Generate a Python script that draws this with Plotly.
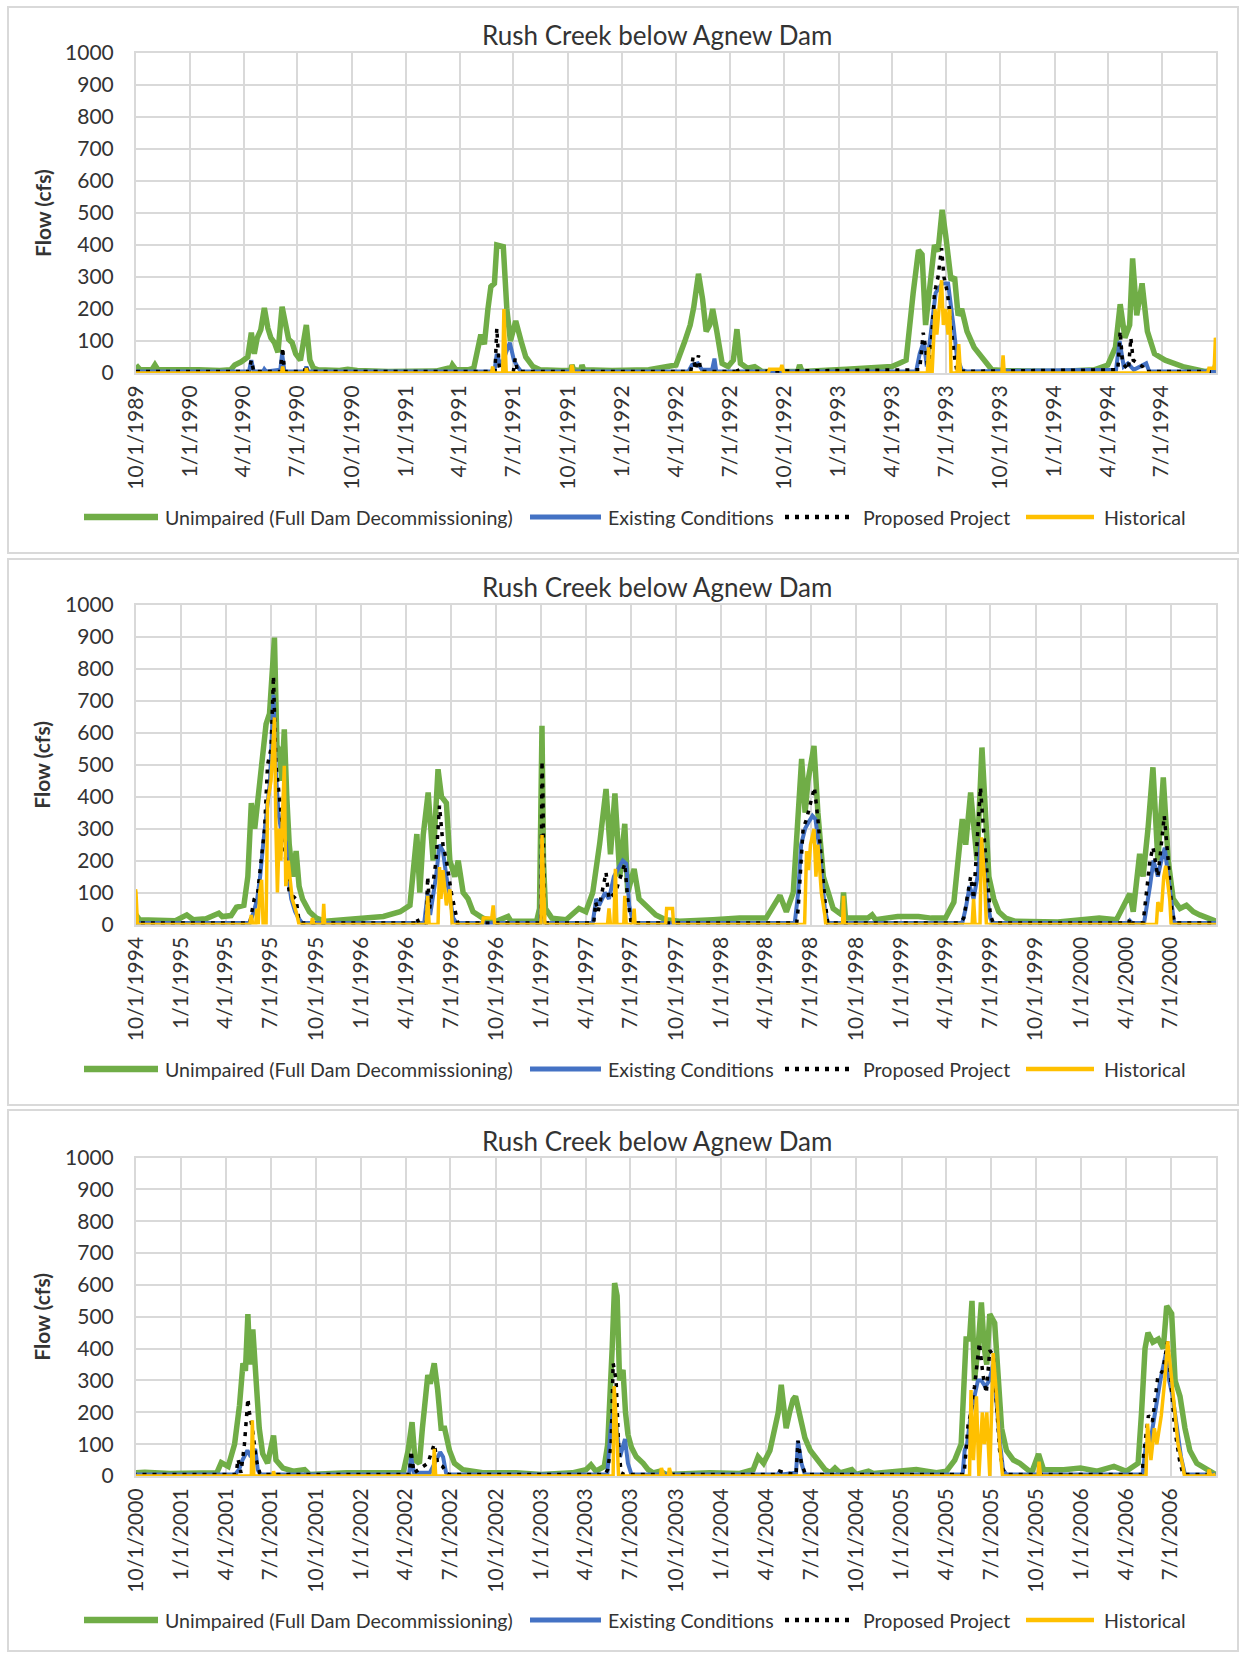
import pandas as pd
import plotly.graph_objects as go

W, H = 1244, 1653

# ---------------- data (cfs) ----------------
unimpaired = [
    ("1989-10-01", 25), ("1989-10-08", 10), ("1989-10-28", 10), ("1989-11-02", 25), ("1989-11-07", 10),
    ("1989-12-10", 8), ("1990-01-15", 10), ("1990-02-20", 8), ("1990-03-10", 10), ("1990-03-17", 25),
    ("1990-03-28", 35), ("1990-04-08", 50), ("1990-04-14", 126), ("1990-04-19", 60), ("1990-04-24", 110),
    ("1990-04-30", 135), ("1990-05-06", 203), ("1990-05-12", 140), ("1990-05-17", 110), ("1990-05-23", 95),
    ("1990-05-29", 65), ("1990-06-05", 207), ("1990-06-10", 150), ("1990-06-16", 105), ("1990-06-22", 95),
    ("1990-06-28", 60), ("1990-07-06", 40), ("1990-07-16", 150), ("1990-07-22", 40), ("1990-07-28", 15),
    ("1990-08-05", 10), ("1990-09-10", 8), ("1990-09-24", 12), ("1990-10-10", 8), ("1990-12-01", 5),
    ("1991-01-20", 8), ("1991-02-20", 6), ("1991-03-12", 15), ("1991-03-16", 8), ("1991-03-20", 25),
    ("1991-03-26", 10), ("1991-04-15", 10), ("1991-04-25", 15), ("1991-05-07", 120), ("1991-05-13", 90),
    ("1991-05-19", 200), ("1991-05-24", 270), ("1991-05-30", 280), ("1991-06-03", 400), ("1991-06-14", 395),
    ("1991-06-20", 200), ("1991-06-26", 100), ("1991-07-05", 163), ("1991-07-14", 100), ("1991-07-22", 50),
    ("1991-08-03", 20), ("1991-08-15", 10), ("1991-09-20", 8), ("1991-10-06", 8), ("1991-10-08", 25),
    ("1991-10-11", 10), ("1991-10-23", 8), ("1991-10-25", 25), ("1991-10-28", 10), ("1991-12-15", 8),
    ("1992-02-15", 10), ("1992-03-20", 20), ("1992-04-01", 25), ("1992-04-16", 100), ("1992-04-25", 150),
    ("1992-05-01", 205), ("1992-05-09", 310), ("1992-05-16", 230), ("1992-05-22", 130), ("1992-05-28", 150),
    ("1992-06-02", 200), ("1992-06-09", 130), ("1992-06-18", 30), ("1992-06-28", 20), ("1992-07-07", 40),
    ("1992-07-13", 137), ("1992-07-19", 30), ("1992-07-31", 15), ("1992-08-12", 20), ("1992-08-24", 5),
    ("1992-10-24", 5), ("1992-10-27", 25), ("1992-10-31", 5), ("1993-01-14", 12), ("1993-03-08", 15),
    ("1993-04-01", 20), ("1993-04-13", 30), ("1993-04-25", 40), ("1993-05-07", 250), ("1993-05-16", 384),
    ("1993-05-22", 370), ("1993-05-28", 150), ("1993-06-06", 300), ("1993-06-12", 400), ("1993-06-18", 380),
    ("1993-06-25", 510), ("1993-07-01", 430), ("1993-07-10", 290), ("1993-07-16", 300), ("1993-07-22", 180),
    ("1993-07-28", 200), ("1993-08-06", 130), ("1993-08-18", 80), ("1993-08-30", 50), ("1993-09-17", 10),
    ("1993-10-09", 8), ("1993-11-20", 5), ("1994-01-08", 5), ("1994-03-09", 10), ("1994-04-01", 25),
    ("1994-04-14", 80), ("1994-04-22", 215), ("1994-04-30", 110), ("1994-05-08", 150), ("1994-05-13", 358),
    ("1994-05-20", 180), ("1994-05-29", 280), ("1994-06-07", 130), ("1994-06-19", 60), ("1994-07-07", 40),
    ("1994-08-06", 20), ("1994-09-12", 5), ("1994-09-28", 8),
    ("1994-10-01", 30), ("1994-10-08", 15), ("1994-11-20", 15), ("1994-12-20", 12), ("1995-01-12", 30),
    ("1995-01-25", 15), ("1995-02-20", 18), ("1995-03-18", 35), ("1995-03-25", 25), ("1995-04-12", 28),
    ("1995-04-23", 54), ("1995-05-08", 60), ("1995-05-16", 150), ("1995-05-23", 380), ("1995-05-30", 300),
    ("1995-06-06", 400), ("1995-06-12", 480), ("1995-06-22", 627), ("1995-06-29", 660), ("1995-07-09", 898),
    ("1995-07-14", 560), ("1995-07-19", 544), ("1995-07-24", 450), ("1995-07-29", 611), ("1995-08-03", 400),
    ("1995-08-08", 250), ("1995-08-15", 150), ("1995-08-22", 230), ("1995-08-28", 120), ("1995-09-04", 80),
    ("1995-09-18", 40), ("1995-10-02", 20), ("1995-10-20", 10), ("1995-12-09", 15), ("1996-01-19", 20),
    ("1996-02-15", 25), ("1996-03-20", 40), ("1996-04-09", 60), ("1996-04-23", 283), ("1996-04-29", 100),
    ("1996-05-06", 280), ("1996-05-16", 413), ("1996-05-26", 200), ("1996-06-05", 486), ("1996-06-12", 400),
    ("1996-06-22", 380), ("1996-06-29", 200), ("1996-07-09", 150), ("1996-07-16", 200), ("1996-07-26", 100),
    ("1996-08-05", 80), ("1996-08-15", 40), ("1996-09-04", 20), ("1996-10-01", 10), ("1996-10-25", 25),
    ("1996-10-31", 10), ("1996-12-22", 10), ("1996-12-28", 50), ("1997-01-02", 622), ("1997-01-05", 200),
    ("1997-01-09", 50), ("1997-01-22", 20), ("1997-02-20", 15), ("1997-03-18", 50), ("1997-04-01", 40),
    ("1997-04-15", 100), ("1997-04-29", 252), ("1997-05-12", 424), ("1997-05-21", 220), ("1997-05-30", 410),
    ("1997-06-09", 150), ("1997-06-19", 315), ("1997-06-25", 100), ("1997-07-08", 174), ("1997-07-18", 80),
    ("1997-08-01", 60), ("1997-08-21", 30), ("1997-09-10", 15), ("1997-10-08", 10), ("1997-12-15", 15),
    ("1998-02-07", 20), ("1998-04-02", 20), ("1998-04-30", 91), ("1998-05-13", 40), ("1998-05-27", 100),
    ("1998-06-13", 518), ("1998-06-20", 350), ("1998-06-26", 450), ("1998-07-08", 559), ("1998-07-16", 350),
    ("1998-07-27", 150), ("1998-08-06", 100), ("1998-08-16", 50), ("1998-09-03", 30), ("1998-09-06", 100),
    ("1998-09-10", 20), ("1998-10-25", 20), ("1998-11-03", 30), ("1998-11-10", 15), ("1998-12-01", 20),
    ("1998-12-25", 25), ("1999-02-05", 25), ("1999-03-03", 20), ("1999-04-01", 20), ("1999-04-18", 70),
    ("1999-05-05", 330), ("1999-05-12", 250), ("1999-05-22", 413), ("1999-05-28", 300), ("1999-06-04", 200),
    ("1999-06-14", 554), ("1999-06-21", 350), ("1999-06-28", 150), ("1999-07-08", 80), ("1999-07-18", 40),
    ("1999-08-01", 20), ("1999-08-21", 10), ("1999-11-15", 8), ("2000-02-07", 20), ("2000-03-13", 15),
    ("2000-04-09", 96), ("2000-04-16", 40), ("2000-04-29", 221), ("2000-05-06", 150), ("2000-05-16", 300),
    ("2000-05-26", 492), ("2000-06-05", 200), ("2000-06-16", 460), ("2000-06-26", 200), ("2000-07-06", 80),
    ("2000-07-20", 50), ("2000-08-02", 60), ("2000-08-16", 40), ("2000-08-29", 30), ("2000-09-25", 10),
    ("2000-10-01", 10), ("2000-10-19", 12), ("2000-12-09", 8), ("2001-02-08", 10), ("2001-03-14", 10),
    ("2001-03-23", 42), ("2001-04-06", 30), ("2001-04-19", 100), ("2001-04-29", 222), ("2001-05-06", 354),
    ("2001-05-11", 330), ("2001-05-16", 508), ("2001-05-20", 350), ("2001-05-26", 460), ("2001-06-02", 280),
    ("2001-06-08", 150), ("2001-06-15", 70), ("2001-06-25", 40), ("2001-07-07", 127), ("2001-07-12", 50),
    ("2001-07-26", 25), ("2001-08-16", 15), ("2001-09-08", 20), ("2001-09-18", 5), ("2001-12-02", 10),
    ("2002-02-14", 8), ("2002-03-27", 10), ("2002-04-06", 80), ("2002-04-14", 169), ("2002-04-20", 50),
    ("2002-04-29", 40), ("2002-05-05", 150), ("2002-05-16", 317), ("2002-05-21", 290), ("2002-05-29", 354),
    ("2002-06-05", 270), ("2002-06-12", 150), ("2002-06-19", 150), ("2002-06-29", 80), ("2002-07-09", 40),
    ("2002-07-26", 20), ("2002-09-04", 10), ("2002-11-11", 10), ("2003-01-01", 5), ("2003-03-05", 10),
    ("2003-04-02", 20), ("2003-04-12", 35), ("2003-04-22", 15), ("2003-05-09", 30), ("2003-05-16", 100),
    ("2003-05-21", 250), ("2003-05-25", 400), ("2003-05-30", 606), ("2003-06-04", 566), ("2003-06-09", 300),
    ("2003-06-16", 333), ("2003-06-21", 200), ("2003-06-26", 130), ("2003-07-03", 90), ("2003-07-13", 60),
    ("2003-07-27", 40), ("2003-08-06", 20), ("2003-08-16", 10), ("2003-08-30", 15), ("2003-09-12", 5),
    ("2003-12-09", 10), ("2004-02-08", 8), ("2004-03-06", 20), ("2004-03-16", 60), ("2004-03-27", 40),
    ("2004-04-09", 80), ("2004-04-19", 150), ("2004-04-26", 200), ("2004-05-02", 286), ("2004-05-12", 150),
    ("2004-05-19", 200), ("2004-05-26", 240), ("2004-05-31", 250), ("2004-06-08", 200), ("2004-06-19", 120),
    ("2004-06-30", 80), ("2004-07-10", 60), ("2004-07-20", 40), ("2004-07-30", 20), ("2004-08-09", 10),
    ("2004-08-19", 25), ("2004-08-29", 10), ("2004-09-22", 20), ("2004-10-01", 5), ("2004-10-26", 15),
    ("2004-11-05", 8), ("2004-12-29", 15), ("2005-01-11", 20), ("2005-01-31", 20), ("2005-02-21", 15),
    ("2005-03-13", 10), ("2005-04-02", 15), ("2005-04-19", 50), ("2005-05-02", 100), ("2005-05-09", 300),
    ("2005-05-12", 430), ("2005-05-19", 430), ("2005-05-24", 550), ("2005-05-29", 300), ("2005-06-05", 400),
    ("2005-06-12", 545), ("2005-06-18", 400), ("2005-06-23", 350), ("2005-06-29", 508), ("2005-07-09", 480),
    ("2005-07-16", 300), ("2005-07-23", 150), ("2005-08-02", 80), ("2005-08-16", 50), ("2005-08-29", 40),
    ("2005-09-12", 20), ("2005-09-22", 10), ("2005-10-06", 69), ("2005-10-16", 20), ("2005-11-26", 20),
    ("2005-12-30", 25), ("2006-02-02", 15), ("2006-03-08", 30), ("2006-04-02", 15), ("2006-04-26", 40),
    ("2006-05-03", 200), ("2006-05-10", 400), ("2006-05-16", 450), ("2006-05-26", 420), ("2006-06-06", 430),
    ("2006-06-16", 400), ("2006-06-23", 534), ("2006-07-03", 510), ("2006-07-10", 300), ("2006-07-20", 250),
    ("2006-07-30", 150), ("2006-08-09", 80), ("2006-08-23", 40), ("2006-09-12", 20), ("2006-09-30", 5),
]

existing = [
    ("1989-10-01", 5), ("1990-04-10", 5), ("1990-04-14", 40), ("1990-04-18", 5), ("1990-05-04", 5),
    ("1990-05-06", 12), ("1990-05-09", 5), ("1990-06-02", 10), ("1990-06-05", 60), ("1990-06-09", 5),
    ("1990-07-14", 5), ("1990-07-16", 20), ("1990-07-19", 5),
    ("1991-05-30", 5), ("1991-06-03", 60), ("1991-06-10", 20), ("1991-06-25", 95), ("1991-07-02", 40),
    ("1991-07-08", 20), ("1991-07-14", 5),
    ("1992-04-22", 5), ("1992-04-28", 25), ("1992-05-08", 30), ("1992-05-15", 10), ("1992-06-01", 10),
    ("1992-06-05", 45), ("1992-06-08", 5),
    ("1993-05-12", 5), ("1993-05-18", 60), ("1993-05-25", 100), ("1993-05-30", 20), ("1993-06-08", 150),
    ("1993-06-14", 250), ("1993-06-25", 280), ("1993-07-05", 280), ("1993-07-14", 150), ("1993-07-20", 50),
    ("1993-07-28", 10), ("1993-08-05", 5),
    ("1994-04-15", 10), ("1994-04-21", 100), ("1994-04-28", 20), ("1994-05-05", 30), ("1994-05-15", 10),
    ("1994-06-05", 30), ("1994-06-10", 5),
    ("1995-05-20", 5), ("1995-05-28", 40), ("1995-06-04", 80), ("1995-06-10", 150), ("1995-06-16", 250),
    ("1995-06-22", 350), ("1995-06-30", 450), ("1995-07-07", 720), ("1995-07-11", 500), ("1995-07-17", 350),
    ("1995-07-24", 280), ("1995-08-01", 257), ("1995-08-06", 150), ("1995-08-12", 80), ("1995-08-20", 40),
    ("1995-08-27", 20), ("1995-09-03", 5),
    ("1996-05-08", 5), ("1996-05-15", 100), ("1996-05-20", 30), ("1996-06-01", 150), ("1996-06-08", 250),
    ("1996-06-15", 230), ("1996-06-22", 150), ("1996-06-29", 80), ("1996-07-06", 20), ("1996-07-12", 5),
    ("1996-12-30", 5), ("1997-01-02", 250), ("1997-01-05", 20), ("1997-01-08", 5), ("1997-04-15", 5),
    ("1997-04-22", 80), ("1997-04-28", 60), ("1997-05-10", 100), ("1997-05-18", 80), ("1997-05-28", 150),
    ("1997-06-05", 170), ("1997-06-15", 200), ("1997-06-22", 190), ("1997-06-28", 60), ("1997-07-05", 10),
    ("1997-07-10", 5),
    ("1998-05-30", 5), ("1998-06-06", 100), ("1998-06-12", 250), ("1998-06-20", 300), ("1998-06-27", 320),
    ("1998-07-05", 340), ("1998-07-11", 330), ("1998-07-18", 250), ("1998-07-24", 150), ("1998-07-30", 50),
    ("1998-08-05", 5),
    ("1999-05-05", 5), ("1999-05-12", 50), ("1999-05-20", 120), ("1999-05-28", 80), ("1999-06-05", 150),
    ("1999-06-12", 270), ("1999-06-18", 200), ("1999-06-24", 80), ("1999-07-01", 20), ("1999-07-06", 5),
    ("2000-04-06", 5), ("2000-04-09", 12), ("2000-04-13", 5), ("2000-05-08", 5), ("2000-05-14", 60),
    ("2000-05-20", 120), ("2000-05-27", 200), ("2000-06-05", 150), ("2000-06-12", 200), ("2000-06-19", 240),
    ("2000-06-26", 150), ("2000-07-03", 50), ("2000-07-08", 5),
    ("2001-04-20", 5), ("2001-04-28", 20), ("2001-05-05", 50), ("2001-05-15", 80), ("2001-05-22", 60),
    ("2001-05-31", 85), ("2001-06-05", 20), ("2001-06-10", 5),
    ("2002-04-08", 5), ("2002-04-12", 60), ("2002-04-18", 10), ("2002-05-20", 10), ("2002-05-30", 40),
    ("2002-06-10", 75), ("2002-06-16", 60), ("2002-06-22", 10), ("2002-06-27", 5),
    ("2003-05-15", 5), ("2003-05-22", 150), ("2003-05-27", 200), ("2003-06-03", 150), ("2003-06-10", 60),
    ("2003-06-20", 116), ("2003-06-26", 40), ("2003-07-03", 5),
    ("2004-04-26", 5), ("2004-04-29", 15), ("2004-05-03", 5), ("2004-06-01", 10), ("2004-06-05", 110),
    ("2004-06-12", 40), ("2004-06-19", 5),
    ("2005-05-05", 5), ("2005-05-09", 80), ("2005-05-14", 100), ("2005-05-22", 200), ("2005-06-05", 300),
    ("2005-06-12", 300), ("2005-06-20", 280), ("2005-06-28", 300), ("2005-07-06", 350), ("2005-07-14", 200),
    ("2005-07-20", 100), ("2005-07-26", 20), ("2005-08-02", 5),
    ("2006-05-05", 5), ("2006-05-12", 100), ("2006-05-20", 100), ("2006-05-30", 200), ("2006-06-10", 300),
    ("2006-06-22", 390), ("2006-06-28", 300), ("2006-07-05", 250), ("2006-07-14", 150), ("2006-07-22", 60),
    ("2006-07-30", 5), ("2006-09-30", 5),
]

proposed = [
    ("1989-10-01", 5), ("1990-04-10", 5), ("1990-04-14", 40), ("1990-04-18", 5), ("1990-06-02", 5),
    ("1990-06-04", 50), ("1990-06-06", 80), ("1990-06-09", 5), ("1990-07-13", 5), ("1990-07-15", 25),
    ("1990-07-18", 5),
    ("1991-05-31", 5), ("1991-06-03", 140), ("1991-06-07", 20), ("1991-06-10", 5), ("1991-07-01", 5),
    ("1991-07-04", 45), ("1991-07-08", 5),
    ("1992-04-26", 5), ("1992-04-30", 50), ("1992-05-04", 10), ("1992-05-09", 55), ("1992-05-13", 5),
    ("1992-07-10", 5), ("1992-07-12", 20), ("1992-07-15", 5),
    ("1993-05-18", 10), ("1993-05-24", 126), ("1993-05-28", 80), ("1993-06-01", 10), ("1993-06-07", 100),
    ("1993-06-12", 250), ("1993-06-18", 300), ("1993-06-24", 390), ("1993-06-28", 300), ("1993-07-04", 250),
    ("1993-07-10", 150), ("1993-07-15", 60), ("1993-07-20", 5),
    ("1994-04-18", 10), ("1994-04-22", 131), ("1994-04-26", 30), ("1994-05-06", 10), ("1994-05-10", 110),
    ("1994-05-14", 40), ("1994-05-30", 20), ("1994-06-03", 5),
    ("1995-05-20", 5), ("1995-05-29", 80), ("1995-06-05", 100), ("1995-06-12", 200), ("1995-06-19", 300),
    ("1995-06-25", 500), ("1995-07-02", 550), ("1995-07-07", 778), ("1995-07-12", 500), ("1995-07-19", 400),
    ("1995-07-26", 280), ("1995-08-01", 200), ("1995-08-08", 100), ("1995-08-22", 80), ("1995-08-28", 10),
    ("1995-09-02", 5),
    ("1996-04-20", 5), ("1996-04-23", 20), ("1996-04-27", 5), ("1996-05-12", 5), ("1996-05-15", 150),
    ("1996-05-19", 50), ("1996-06-01", 200), ("1996-06-08", 372), ("1996-06-15", 250), ("1996-06-22", 200),
    ("1996-07-02", 100), ("1996-07-09", 50), ("1996-07-15", 5),
    ("1996-12-31", 5), ("1997-01-02", 512), ("1997-01-04", 400), ("1997-01-07", 5), ("1997-04-17", 5),
    ("1997-04-21", 70), ("1997-04-26", 40), ("1997-05-12", 163), ("1997-05-18", 80), ("1997-05-31", 100),
    ("1997-06-19", 190), ("1997-06-25", 80), ("1997-07-02", 5),
    ("1998-06-03", 5), ("1998-06-06", 50), ("1998-06-10", 150), ("1998-06-16", 300), ("1998-06-23", 330),
    ("1998-07-09", 429), ("1998-07-16", 330), ("1998-07-23", 200), ("1998-07-30", 80), ("1998-08-05", 5),
    ("1999-05-01", 5), ("1999-05-08", 20), ("1999-05-22", 150), ("1999-05-28", 80), ("1999-06-11", 429),
    ("1999-06-17", 300), ("1999-06-24", 150), ("1999-07-01", 30), ("1999-07-07", 5),
    ("2000-04-07", 5), ("2000-04-09", 20), ("2000-04-12", 5), ("2000-05-06", 5), ("2000-05-13", 100),
    ("2000-05-20", 200), ("2000-05-26", 242), ("2000-06-05", 150), ("2000-06-12", 250), ("2000-06-18", 340),
    ("2000-06-26", 200), ("2000-07-03", 50), ("2000-07-09", 5),
    ("2001-04-22", 5), ("2001-04-26", 53), ("2001-05-02", 10), ("2001-05-09", 100), ("2001-05-16", 243),
    ("2001-05-19", 200), ("2001-05-25", 150), ("2001-06-02", 50), ("2001-06-09", 10), ("2001-06-14", 5),
    ("2002-04-09", 5), ("2002-04-12", 79), ("2002-04-18", 10), ("2002-05-16", 40), ("2002-05-29", 100),
    ("2002-06-05", 40), ("2002-06-15", 30), ("2002-06-22", 10), ("2002-06-27", 5),
    ("2003-05-10", 5), ("2003-05-16", 20), ("2003-05-23", 100), ("2003-05-27", 354), ("2003-06-02", 300),
    ("2003-06-07", 100), ("2003-06-12", 10), ("2003-06-18", 5),
    ("2004-04-26", 5), ("2004-04-29", 15), ("2004-05-09", 10), ("2004-06-01", 5), ("2004-06-05", 111),
    ("2004-06-12", 40), ("2004-06-19", 10), ("2004-06-25", 5),
    ("2005-05-08", 5), ("2005-05-12", 100), ("2005-05-16", 160), ("2005-05-22", 200), ("2005-05-29", 280),
    ("2005-06-08", 418), ("2005-06-15", 320), ("2005-06-22", 260), ("2005-06-29", 395), ("2005-07-06", 380),
    ("2005-07-13", 200), ("2005-07-19", 80), ("2005-07-26", 20), ("2005-08-01", 5),
    ("2006-05-04", 5), ("2006-05-08", 80), ("2006-05-17", 190), ("2006-05-25", 170), ("2006-06-05", 312),
    ("2006-06-15", 330), ("2006-06-25", 423), ("2006-07-02", 300), ("2006-07-09", 150), ("2006-07-19", 50),
    ("2006-07-26", 5), ("2006-09-30", 5),
]

historical = [
    ("1989-10-01", 0), ("1990-06-04", 0), ("1990-06-06", 20), ("1990-06-08", 0), ("1990-07-15", 0),
    ("1990-07-16", 15), ("1990-07-18", 0),
    ("1991-05-25", 0), ("1991-05-27", 20), ("1991-05-29", 0), ("1991-06-13", 0), ("1991-06-15", 200),
    ("1991-06-19", 0), ("1991-10-06", 0), ("1991-10-08", 25), ("1991-10-11", 0),
    ("1992-09-04", 0), ("1992-09-06", 12), ("1992-09-25", 12), ("1992-09-27", 25), ("1992-09-30", 0),
    ("1993-05-31", 0), ("1993-06-02", 80), ("1993-06-04", 0), ("1993-06-08", 0), ("1993-06-10", 100),
    ("1993-06-13", 200), ("1993-06-16", 120), ("1993-06-20", 200), ("1993-06-24", 290), ("1993-06-27", 150),
    ("1993-07-01", 200), ("1993-07-05", 120), ("1993-07-08", 200), ("1993-07-10", 0), ("1993-07-20", 0),
    ("1993-07-23", 90), ("1993-07-26", 0), ("1993-10-04", 0), ("1993-10-06", 55), ("1993-10-08", 0),
    ("1994-09-17", 0), ("1994-09-19", 15), ("1994-09-28", 15), ("1994-09-30", 110), ("1994-10-01", 100),
    ("1994-10-04", 0),
    ("1995-05-20", 0), ("1995-05-23", 30), ("1995-05-26", 0), ("1995-06-01", 0), ("1995-06-03", 50),
    ("1995-06-06", 0), ("1995-06-09", 100), ("1995-06-13", 140), ("1995-06-16", 0), ("1995-06-22", 0),
    ("1995-06-25", 380), ("1995-07-02", 450), ("1995-07-09", 648), ("1995-07-12", 300), ("1995-07-15", 100),
    ("1995-07-19", 300), ("1995-07-22", 200), ("1995-07-29", 497), ("1995-08-01", 120), ("1995-08-06", 200),
    ("1995-08-14", 80), ("1995-08-22", 40), ("1995-08-28", 0), ("1995-09-22", 0), ("1995-09-24", 20),
    ("1995-09-27", 0), ("1995-10-15", 0), ("1995-10-17", 65), ("1995-10-19", 0),
    ("1996-05-12", 0), ("1996-05-15", 90), ("1996-05-18", 0), ("1996-06-05", 0), ("1996-06-08", 180),
    ("1996-06-11", 80), ("1996-06-15", 170), ("1996-06-22", 60), ("1996-06-29", 110), ("1996-07-04", 0),
    ("1996-09-03", 0), ("1996-09-05", 20), ("1996-09-22", 20), ("1996-09-25", 60), ("1996-09-28", 0),
    ("1996-12-31", 0), ("1997-01-02", 280), ("1997-01-06", 50), ("1997-01-08", 0), ("1997-05-15", 0),
    ("1997-05-18", 50), ("1997-05-21", 0), ("1997-05-28", 0), ("1997-05-31", 174), ("1997-06-03", 0),
    ("1997-06-17", 0), ("1997-06-19", 90), ("1997-06-22", 0), ("1997-07-06", 0), ("1997-07-08", 50),
    ("1997-07-10", 0), ("1997-09-10", 0), ("1997-09-12", 50), ("1997-09-24", 50), ("1997-09-26", 0),
    ("1998-06-19", 0), ("1998-06-23", 230), ("1998-06-27", 170), ("1998-07-01", 250), ("1998-07-08", 299),
    ("1998-07-12", 150), ("1998-07-16", 250), ("1998-07-23", 100), ("1998-07-30", 30), ("1998-08-01", 0),
    ("1998-09-04", 0), ("1998-09-06", 90), ("1998-09-08", 0),
    ("1999-05-25", 0), ("1999-05-28", 80), ("1999-05-31", 0), ("1999-06-10", 0), ("1999-06-13", 273),
    ("1999-06-19", 150), ("1999-06-23", 0),
    ("2000-06-02", 0), ("2000-06-05", 70), ("2000-06-12", 40), ("2000-06-17", 150), ("2000-06-21", 184),
    ("2000-06-25", 120), ("2000-06-29", 80), ("2000-07-02", 0),
    ("2001-05-23", 0), ("2001-05-25", 175), ("2001-05-28", 0), ("2001-07-06", 0), ("2001-07-07", 15),
    ("2001-07-09", 0),
    ("2002-05-27", 0), ("2002-05-29", 85), ("2002-06-01", 0),
    ("2003-05-27", 0), ("2003-05-29", 282), ("2003-06-03", 150), ("2003-06-07", 0), ("2003-08-31", 0),
    ("2003-09-02", 25), ("2003-09-07", 0), ("2003-09-16", 0), ("2003-09-18", 25), ("2003-09-22", 0),
    ("2005-05-19", 0), ("2005-05-22", 270), ("2005-05-27", 50), ("2005-06-02", 250), ("2005-06-07", 0),
    ("2005-06-14", 200), ("2005-06-18", 100), ("2005-06-23", 200), ("2005-06-29", 0), ("2005-07-06", 386),
    ("2005-07-13", 250), ("2005-07-19", 100), ("2005-07-25", 0), ("2005-10-05", 0), ("2005-10-07", 45),
    ("2005-10-10", 0),
    ("2006-05-12", 0), ("2006-05-15", 164), ("2006-05-22", 50), ("2006-05-29", 150), ("2006-06-03", 100),
    ("2006-06-12", 190), ("2006-06-19", 300), ("2006-06-25", 423), ("2006-07-02", 320), ("2006-07-09", 200),
    ("2006-07-16", 100), ("2006-07-26", 30), ("2006-07-29", 0), ("2006-09-15", 0), ("2006-09-17", 20),
    ("2006-09-20", 0), ("2006-09-30", 5),
]

# tick labels (quarter starts) for each panel
ticks_p1 = ["10/1/1989", "1/1/1990", "4/1/1990", "7/1/1990", "10/1/1990", "1/1/1991", "4/1/1991",
            "7/1/1991", "10/1/1991", "1/1/1992", "4/1/1992", "7/1/1992", "10/1/1992", "1/1/1993",
            "4/1/1993", "7/1/1993", "10/1/1993", "1/1/1994", "4/1/1994", "7/1/1994"]
ticks_p2 = ["10/1/1994", "1/1/1995", "4/1/1995", "7/1/1995", "10/1/1995", "1/1/1996", "4/1/1996",
            "7/1/1996", "10/1/1996", "1/1/1997", "4/1/1997", "7/1/1997", "10/1/1997", "1/1/1998",
            "4/1/1998", "7/1/1998", "10/1/1998", "1/1/1999", "4/1/1999", "7/1/1999", "10/1/1999",
            "1/1/2000", "4/1/2000", "7/1/2000"]
ticks_p3 = ["10/1/2000", "1/1/2001", "4/1/2001", "7/1/2001", "10/1/2001", "1/1/2002", "4/1/2002",
            "7/1/2002", "10/1/2002", "1/1/2003", "4/1/2003", "7/1/2003", "10/1/2003", "1/1/2004",
            "4/1/2004", "7/1/2004", "10/1/2004", "1/1/2005", "4/1/2005", "7/1/2005", "10/1/2005",
            "1/1/2006", "4/1/2006", "7/1/2006"]
panel_ranges = [("1989-10-01", "1994-10-01"), ("1994-10-01", "2000-10-01"), ("2000-10-01", "2006-10-01")]
y_ticks = [0, 100, 200, 300, 400, 500, 600, 700, 800, 900, 1000]

series_names = ["Unimpaired (Full Dam Decommissioning)", "Existing Conditions", "Proposed Project", "Historical"]
chart_title = "Rush Creek below Agnew Dam"
y_title = "Flow (cfs)"

# ---------------- styling / layout ----------------
FONT = "Lato"
TXT = "#333333"
GRID = "#d9d9d9"
GREEN, BLUE, GOLD, BLACK = "#70ad47", "#4472c4", "#ffc000", "#000000"
styles = [
    dict(color=GREEN, width=5.5),
    dict(color=BLUE, width=4),
    dict(color=BLACK, width=3.5, dash="4px,6px"),
    dict(color=GOLD, width=3.5),
]
all_series = [unimpaired, existing, proposed, historical]


def px(x):
    return x / W


def py(y):
    return 1 - y / H


plot_left, plot_right = 136, 1216
plot_tb = [(53, 373), (605, 924.5), (1157.5, 1476)]
box_tb = [(7, 553), (559, 1105), (1110, 1651)]
title_y = [35, 587, 1141]
legend_y = [517, 1069, 1620]
tick_sets = [ticks_p1, ticks_p2, ticks_p3]

fig = go.Figure()
shapes, annotations = [], []
layout = {}

for i in range(3):
    sfx = "" if i == 0 else str(i + 1)
    xa, ya = "x" + sfx, "y" + sfx
    for data, st, name in zip(all_series, styles, series_names):
        fig.add_trace(go.Scatter(
            x=[d for d, _ in data], y=[v for _, v in data], mode="lines", name=name,
            line=st, xaxis=xa, yaxis=ya, showlegend=False, hoverinfo="skip"))
    top, bot = plot_tb[i]
    tvals = pd.to_datetime(tick_sets[i], format="%m/%d/%Y").strftime("%Y-%m-%d").tolist()
    layout["xaxis" + sfx] = dict(
        domain=[px(plot_left), px(plot_right)], anchor=ya, type="date",
        range=list(panel_ranges[i]), tickmode="array", tickvals=tvals, ticktext=tick_sets[i],
        tickangle=-90, tickfont=dict(family=FONT, size=21, color=TXT),
        showgrid=True, gridcolor=GRID, gridwidth=2, showline=True, mirror=True,
        linecolor=GRID, linewidth=2, zeroline=False, ticks="", ticklabelstandoff=2,
        fixedrange=True)
    layout["yaxis" + sfx] = dict(
        domain=[py(bot), py(top)], anchor=xa, range=[0, 1000], tickmode="array",
        tickvals=y_ticks, ticktext=[str(v) for v in y_ticks],
        tickfont=dict(family=FONT, size=21, color=TXT),
        showgrid=True, gridcolor=GRID, gridwidth=2, showline=True, mirror=True,
        linecolor=GRID, linewidth=2, zeroline=False, ticks="", ticklabelstandoff=16,
        fixedrange=True)

    bt, bb = box_tb[i]
    shapes.append(dict(type="rect", xref="paper", yref="paper", x0=px(8), x1=px(1238),
                       y0=py(bb), y1=py(bt), line=dict(color=GRID, width=2), layer="below"))
    annotations.append(dict(text=chart_title, xref="paper", yref="paper", x=px(657), y=py(title_y[i]),
                            xanchor="center", yanchor="middle", showarrow=False,
                            font=dict(family=FONT, size=26, color=TXT)))
    annotations.append(dict(text="<b>" + y_title + "</b>", xref="paper", yref="paper", x=px(42),
                            y=py((top + bot) / 2), xanchor="center", yanchor="middle", textangle=-90,
                            showarrow=False, font=dict(family=FONT, size=21, color=TXT)))
    ly = py(legend_y[i])
    swatches = [(84, 158, 163), (530, 601, 606), (785, 852, 861), (1026, 1094, 1102)]
    for (s0, s1, tx), st, name in zip(swatches, styles, series_names):
        ln = dict(color=st["color"], width=st["width"] + 1)
        if "dash" in st:
            ln["dash"] = st["dash"]
        shapes.append(dict(type="line", xref="paper", yref="paper", x0=px(s0), x1=px(s1),
                           y0=ly, y1=ly, line=ln))
        annotations.append(dict(text=name, xref="paper", yref="paper", x=px(tx), y=ly,
                                xanchor="left", yanchor="middle", showarrow=False,
                                font=dict(family=FONT, size=19.6, color=TXT)))

fig.update_layout(
    width=W, height=H, margin=dict(l=0, r=0, t=0, b=0, autoexpand=False),
    paper_bgcolor="white", plot_bgcolor="white",
    shapes=shapes, annotations=annotations, showlegend=False,
    font=dict(family=FONT, color=TXT),
    **layout,
)

fig.write_html("out.html", include_plotlyjs=True, config={"displayModeBar": False},
               post_script="document.body.style.margin='0px';document.body.style.overflow='hidden';")
